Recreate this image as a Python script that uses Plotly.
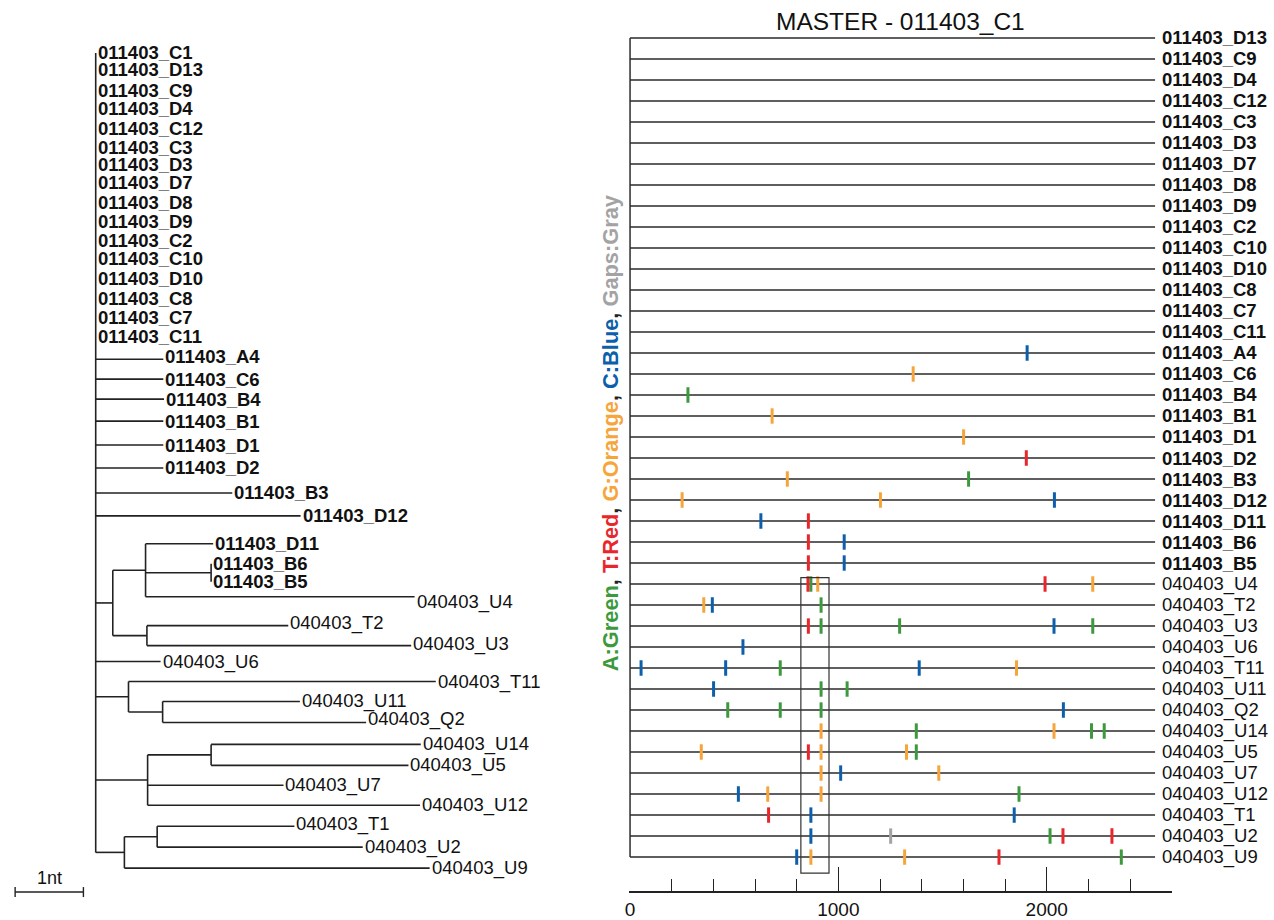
import plotly.graph_objects as go

W, H = 1274, 920
FONT = "Liberation Sans, Arial, Helvetica, sans-serif"
INK = "#222222"

# ---------------- Tree data (left) ----------------
tip_names = [
    "011403_C1", "011403_D13", "011403_C9", "011403_D4", "011403_C12", "011403_C3",
    "011403_D3", "011403_D7", "011403_D8", "011403_D9", "011403_C2", "011403_C10",
    "011403_D10", "011403_C8", "011403_C7", "011403_C11",
    "011403_A4", "011403_C6", "011403_B4", "011403_B1", "011403_D1", "011403_D2",
    "011403_B3", "011403_D12", "011403_D11", "011403_B6", "011403_B5", "040403_U4",
    "040403_T2", "040403_U3", "040403_U6", "040403_T11", "040403_U11", "040403_Q2",
    "040403_U14", "040403_U5", "040403_U7", "040403_U12", "040403_T1", "040403_U2",
    "040403_U9",
]
tip_parent = (
    ["root"] * 16
    + ["root"] * 6
    + ["root", "root", "nA", "nB6B5", "nB6B5", "nA",
       "nB", "nB", "root", "nT11", "nC", "nC",
       "nE", "nE", "nD", "nD", "nG", "nG", "nF"]
)
tip_branch = (
    [0.0] * 16
    + [0.99, 0.99, 1.0, 0.99, 0.99, 0.99]
    + [2.0, 3.0, 0.99, 0.0, 0.0, 3.94,
       2.07, 3.87, 0.95, 4.50, 2.01, 2.98,
       3.07, 2.89, 1.99, 3.99, 2.01, 3.01, 4.47]
)
# vertical position of each tip (reference page units)
tip_y = [
    53, 70, 91, 109, 129, 148, 165, 183, 203, 222, 241, 259, 279, 299, 318, 337,
    360, 380, 400, 422, 446, 469, 494, 517, 545, 565, 583, 598,
    627, 647, 663, 683, 703, 724, 746, 767, 787, 807, 828, 849, 870,
]
# small vertical nudges of some tip labels relative to their branch (reference page units)
tip_label_dy = {"040403_U4": 5, "040403_T2": -3, "040403_U3": -2, "011403_A4": -3,
                "040403_Q2": -3, "040403_T1": -2}
inner_names = ["n1", "nA", "nB6B5", "nB", "nT11", "nC", "nD", "nE", "nF", "nG"]
inner_parent = ["root", "n1", "nA", "n1", "root", "nT11", "root", "nD", "root", "nF"]
inner_branch = [0.25, 0.48, 0.96, 0.50, 0.48, 0.50, 0.76, 0.93, 0.42, 0.48]

scale_bar_nt = 1.0
scale_bar_label = "1nt"

# ---------------- Highlighter data (right) ----------------
master_name = "MASTER - 011403_C1"
row_names = [
    "011403_D13", "011403_C9", "011403_D4", "011403_C12", "011403_C3", "011403_D3",
    "011403_D7", "011403_D8", "011403_D9", "011403_C2", "011403_C10", "011403_D10",
    "011403_C8", "011403_C7", "011403_C11", "011403_A4", "011403_C6", "011403_B4",
    "011403_B1", "011403_D1", "011403_D2", "011403_B3", "011403_D12", "011403_D11",
    "011403_B6", "011403_B5", "040403_U4", "040403_T2", "040403_U3", "040403_U6",
    "040403_T11", "040403_U11", "040403_Q2", "040403_U14", "040403_U5", "040403_U7",
    "040403_U12", "040403_T1", "040403_U2", "040403_U9",
]
seq_length = 2520

mark_row = (
    ["011403_A4", "011403_C6", "011403_B4", "011403_B1", "011403_D1", "011403_D2"]
    + ["011403_B3"] * 2 + ["011403_D12"] * 3 + ["011403_D11"] * 2
    + ["011403_B6"] * 2 + ["011403_B5"] * 2 + ["040403_U4"] * 5
    + ["040403_T2"] * 3 + ["040403_U3"] * 5 + ["040403_U6"] * 1
    + ["040403_T11"] * 5 + ["040403_U11"] * 3 + ["040403_Q2"] * 4
    + ["040403_U14"] * 5 + ["040403_U5"] * 5 + ["040403_U7"] * 3
    + ["040403_U12"] * 4 + ["040403_T1"] * 3 + ["040403_U2"] * 5
    + ["040403_U9"] * 5
)
mark_pos = (
    [1906, 1359, 278, 682, 1601, 1902]
    + [755, 1625] + [250, 1202, 2037] + [628, 856]
    + [856, 1028] + [856, 1028] + [854, 868, 901, 1992, 2221]
    + [354, 395, 917] + [856, 917, 1294, 2035, 2221] + [542]
    + [53, 459, 721, 1388, 1855] + [401, 917, 1042] + [469, 721, 917, 2080]
    + [917, 1374, 2035, 2215, 2276] + [342, 856, 917, 1327, 1374] + [917, 1011, 1482]
    + [520, 661, 917, 1867] + [665, 868, 1844] + [868, 1251, 2016, 2078, 2313]
    + [800, 868, 1318, 1771, 2358]
)
mark_base = (
    ["C", "G", "A", "G", "G", "T"]
    + ["G", "A"] + ["G", "G", "C"] + ["C", "T"]
    + ["T", "C"] + ["T", "C"] + ["T", "A", "G", "T", "G"]
    + ["G", "C", "A"] + ["T", "A", "A", "C", "A"] + ["C"]
    + ["C", "C", "A", "C", "G"] + ["C", "A", "A"] + ["A", "A", "A", "C"]
    + ["G", "A", "G", "A", "A"] + ["G", "T", "G", "G", "A"] + ["G", "C", "G"]
    + ["C", "G", "G", "A"] + ["T", "C", "C"] + ["C", "-", "A", "T", "T"]
    + ["C", "G", "G", "T", "A"]
)
base_order = ["A", "T", "G", "C", "-"]
base_colors = {"A": "#3c9a3c", "T": "#e8262b", "G": "#f6a53a", "C": "#0d5fac", "-": "#a3a3a3"}
legend_parts = [("A:Green", "A"), ("T:Red", "T"), ("G:Orange", "G"), ("C:Blue", "C"), ("Gaps:Gray", "-")]

axis_label_vals = [0, 1000, 2000]
axis_major_vals = [1000, 2000]
axis_minor_vals = [200, 400, 600, 800, 1200, 1400, 1600, 1800, 2200, 2400]

box_start, box_end = 820, 955
box_first_row, box_last_row = "040403_U4", "040403_U9"

# ---------------- Build tree geometry ----------------
all_nodes = tip_names + inner_names
parent = dict(zip(all_nodes, tip_parent + inner_parent))
blen = dict(zip(all_nodes, tip_branch + inner_branch))
children = {}
for n in all_nodes:
    children.setdefault(parent[n], []).append(n)

depth = {"root": 0.0}
def get_depth(n):
    if n not in depth:
        depth[n] = get_depth(parent[n]) + blen[n]
    return depth[n]

ypos = dict(zip(tip_names, tip_y))
def get_y(n):
    if n not in ypos:
        ys = [get_y(c) for c in children[n]]
        ypos[n] = (min(ys) + max(ys)) / 2
    return ypos[n]

ex, ey = [], []
for n in all_nodes:
    p = parent[n]
    ex += [get_depth(p), get_depth(n), None]
    ey += [get_y(n), get_y(n), None]
for n in ["root"] + inner_names:
    ys = [get_y(c) for c in children[n]]
    ex += [get_depth(n), get_depth(n), None]
    ey += [min(ys), max(ys), None]

fig = go.Figure()
fig.add_trace(go.Scatter(x=ex, y=ey, mode="lines", line=dict(color=INK, width=1.6),
                         hoverinfo="skip", showlegend=False, xaxis="x", yaxis="y"))

# scale bar
sb_x0 = -1.18
sb_y = 894
fig.add_trace(go.Scatter(
    x=[sb_x0, sb_x0 + scale_bar_nt, None, sb_x0, sb_x0, None, sb_x0 + scale_bar_nt, sb_x0 + scale_bar_nt],
    y=[sb_y, sb_y, None, sb_y - 5, sb_y + 5, None, sb_y - 5, sb_y + 5],
    mode="lines", line=dict(color=INK, width=1.4), hoverinfo="skip", showlegend=False,
    xaxis="x", yaxis="y"))

annotations = []
annotations.append(dict(x=sb_x0 + scale_bar_nt / 2, y=sb_y - 14, xref="x", yref="y",
                        text=scale_bar_label, showarrow=False, xanchor="center", yanchor="middle",
                        font=dict(family=FONT, size=18, color="#111")))
for n in tip_names:
    bold = n.startswith("011403")
    annotations.append(dict(
        x=get_depth(n), y=get_y(n) + tip_label_dy.get(n, 0), xref="x", yref="y",
        text=f"<b>{n}</b>" if bold else n, showarrow=False,
        xanchor="left", yanchor="middle", xshift=0,
        font=dict(family=FONT, size=18.5, color="#111")))

# ---------------- Highlighter plot ----------------
row_idx = {n: i for i, n in enumerate(row_names)}
rx, ry = [], []
for i, n in enumerate(row_names):
    rx += [0, seq_length, None]
    ry += [i, i, None]
rx += [0, 0, None]
ry += [0, len(row_names) - 1, None]
fig.add_trace(go.Scatter(x=rx, y=ry, mode="lines", line=dict(color="#2a2a2a", width=1.5),
                         hoverinfo="skip", showlegend=False, xaxis="x2", yaxis="y2"))

for b in base_order:
    xs = [p for p, bb in zip(mark_pos, mark_base) if bb == b]
    ys = [row_idx[r] for r, bb in zip(mark_row, mark_base) if bb == b]
    fig.add_trace(go.Scatter(
        x=xs, y=ys, mode="markers",
        marker=dict(symbol="line-ns", size=11, line=dict(width=3, color=base_colors[b])),
        hoverinfo="skip", showlegend=False, xaxis="x2", yaxis="y2"))

fig.add_trace(go.Scatter(x=[None], y=[None], xaxis="x3", yaxis="y2", showlegend=False, hoverinfo="skip"))

for n in row_names:
    bold = n.startswith("011403")
    annotations.append(dict(
        x=seq_length, y=row_idx[n], xref="x2", yref="y2",
        text=f"<b>{n}</b>" if bold else n, showarrow=False,
        xanchor="left", yanchor="middle", xshift=5,
        font=dict(family=FONT, size=18.5, color="#111")))

annotations.append(dict(x=899 / W, y=1 - 22 / H, xref="paper", yref="paper",
                        text=master_name, showarrow=False, xanchor="center", yanchor="middle",
                        font=dict(family=FONT, size=24.5, color="#111")))

legend_text = ", ".join(f"<span style='color:{base_colors[b]}'>{t}</span>" for t, b in legend_parts)
annotations.append(dict(x=608 / W, y=1 - 434 / H, xref="paper", yref="paper",
                        text=f"<b>{legend_text}</b>", textangle=-90, showarrow=False,
                        xanchor="center", yanchor="middle",
                        font=dict(family=FONT, size=21.8, color="#222")))

shapes = [dict(type="rect", xref="x2", yref="y2",
               x0=box_start, x1=box_end,
               y0=row_idx[box_first_row] - 0.3, y1=row_idx[box_last_row] + 0.76,
               line=dict(color="#333", width=1.2), fillcolor="rgba(0,0,0,0)")]

# axis geometry (pixels of the page)
tree_px_per_nt = 68.5
tree_root_px = 92
tree_right_px = 600
x_range = [(0 - tree_root_px) / tree_px_per_nt, (tree_right_px - tree_root_px) / tree_px_per_nt]

hp_px0, hp_scale = 628, 0.209
hp_left, hp_right = 627, 1172
x2_range = [(hp_left - hp_px0) / hp_scale, (hp_right - hp_px0) / hp_scale]
row0_px, row_step = 38, 21.05
y2_bottom, y2_top = 893, 30
y2_range = [(y2_bottom - row0_px) / row_step, (y2_top - row0_px) / row_step]

fig.update_layout(
    width=W, height=H, margin=dict(l=0, r=0, t=0, b=0),
    paper_bgcolor="white", plot_bgcolor="white",
    font=dict(family=FONT, color="#111"),
    xaxis=dict(domain=[0, tree_right_px / W], range=x_range, visible=False, fixedrange=True),
    yaxis=dict(domain=[0, 1], range=[H, 0], visible=False, fixedrange=True),
    xaxis2=dict(domain=[hp_left / W, hp_right / W], range=x2_range, anchor="y2",
                showline=True, linecolor=INK, linewidth=1.5, showgrid=False, zeroline=False,
                tickmode="array", tickvals=axis_label_vals,
                ticktext=[str(v) for v in axis_label_vals], ticks="",
                tickfont=dict(family=FONT, size=19, color="#111"),
                minor=dict(ticks="inside", ticklen=12, tickwidth=1.4, tickcolor=INK,
                           tickmode="array", tickvals=axis_minor_vals, showgrid=False),
                fixedrange=True),
    xaxis3=dict(overlaying="x2", anchor="y2", range=x2_range, showline=False, showgrid=False,
                zeroline=False, tickmode="array", tickvals=axis_major_vals, ticks="inside",
                ticklen=24, tickwidth=1.4, tickcolor=INK, showticklabels=False, side="bottom",
                fixedrange=True),
    yaxis2=dict(domain=[1 - y2_bottom / H, 1 - y2_top / H], range=y2_range, anchor="x2",
                visible=False, fixedrange=True),
    annotations=annotations, shapes=shapes,
)

fig.write_html("out.html", config={"displayModeBar": False},
               post_script="document.body.style.margin='0';")
